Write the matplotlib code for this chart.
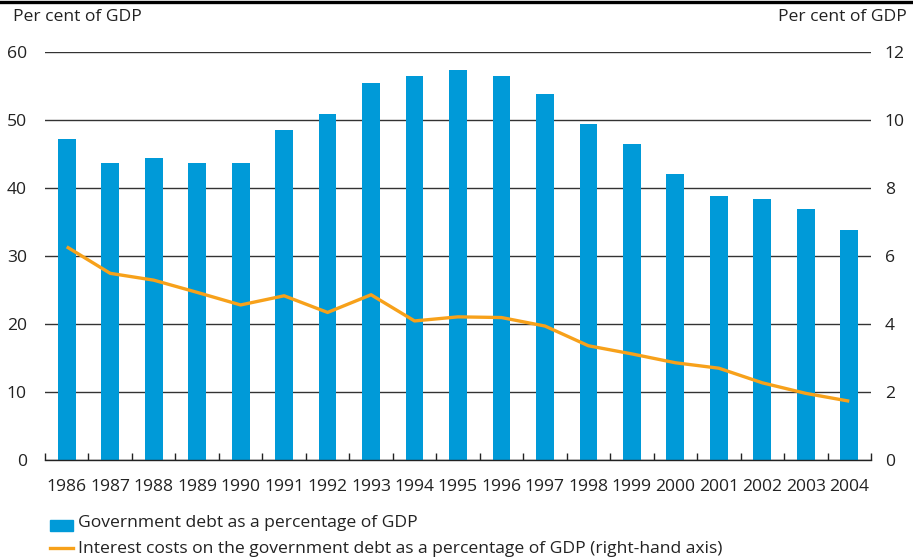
import matplotlib.pyplot as plt
import numpy as np

plt.rcParams["font.family"] = ["Open Sans", "DejaVu Sans"]

years = [str(y) for y in range(1986, 2005)]
debt = [47.2, 43.7, 44.4, 43.7, 43.7, 48.5, 50.9, 55.4, 56.5, 57.4,
        56.5, 53.8, 49.4, 46.5, 42.1, 38.8, 38.4, 36.9, 33.8]
interest = [6.27, 5.49, 5.29, 4.93, 4.56, 4.83, 4.34, 4.86, 4.09, 4.21,
            4.19, 3.94, 3.36, 3.12, 2.86, 2.70, 2.27, 1.96, 1.73]

blue = "#009ad8"
orange = "#f7a11a"
text_col = "#222222"
fs = 12.6

fig = plt.figure(figsize=(9.13, 5.59), dpi=100)
ax = fig.add_axes([45 / 913, 1 - 460 / 559, 826 / 913, 408 / 559])
x = np.arange(len(years))

ax.bar(x, debt, width=0.41, color=blue, zorder=2)
ax.set_xlim(-0.5, len(years) - 0.5)
ax.set_ylim(0, 60)
ax.set_yticks(range(0, 61, 10))
ax.grid(axis="y", color="#333333", linewidth=1.0, zorder=0)
ax.set_axisbelow(True)
for s in ["top", "left", "right"]:
    ax.spines[s].set_visible(False)
ax.spines["bottom"].set_color("#222222")
ax.spines["bottom"].set_linewidth(1.0)
ax.set_xticks(x)
ax.set_xticklabels(years)
ax.set_xticks(np.arange(-0.5, len(years), 1.0), minor=True)
ax.tick_params(axis="x", which="major", length=0, pad=14, labelsize=fs,
               colors=text_col)
ax.tick_params(axis="x", which="minor", direction="in", length=5,
               width=1.0, color="#222222")
ax.tick_params(axis="y", length=0, pad=13, labelsize=fs, colors=text_col)

ax2 = ax.twinx()
ax2.plot(x, interest, color=orange, linewidth=2.4, solid_capstyle="butt",
         zorder=3)
ax2.set_ylim(0, 12)
ax2.set_yticks(range(0, 13, 2))
for s in ["top", "left", "right", "bottom"]:
    ax2.spines[s].set_visible(False)
ax2.tick_params(axis="y", length=0, pad=10, labelsize=fs, colors=text_col)

# axis unit captions
fig.text(13 / 913, 1 - 17 / 559, "Per cent of GDP", fontsize=fs,
         color=text_col, va="center", ha="left")
fig.text(907 / 913, 1 - 17 / 559, "Per cent of GDP", fontsize=fs,
         color=text_col, va="center", ha="right")

# black rule along the top edge
fig.add_artist(plt.Line2D([0, 1], [1 - 1.5 / 559, 1 - 1.5 / 559],
                          transform=fig.transFigure, color="black",
                          linewidth=2.4))

# legend
fig.patches.append(plt.Rectangle((50 / 913, 1 - 531 / 559), 23 / 913,
                                 11 / 559, transform=fig.transFigure,
                                 color=blue))
fig.text(78 / 913, 1 - 523 / 559, "Government debt as a percentage of GDP",
         fontsize=fs, color=text_col, va="center", ha="left")
fig.add_artist(plt.Line2D([50 / 913, 73 / 913], [1 - 548 / 559, 1 - 548 / 559],
                          transform=fig.transFigure, color=orange,
                          linewidth=2.4))
fig.text(78 / 913, 1 - 549 / 559,
         "Interest costs on the government debt as a percentage of GDP "
         "(right-hand axis)",
         fontsize=fs, color=text_col, va="center", ha="left")

fig.savefig("out.png", dpi=100)
